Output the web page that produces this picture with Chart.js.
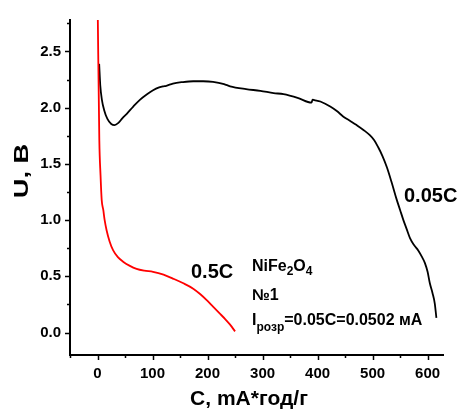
<!DOCTYPE html>
<html>
<head>
<meta charset="utf-8">
<script src="https://cdn.jsdelivr.net/npm/chart.js@4/dist/chart.umd.min.js"></script>
<style>
  html, body { margin: 0; padding: 0; background: #fff; }
</style>
</head>
<body>
<canvas id="grafik" width="460" height="410"></canvas>
<script>
// Розряд NiFe2O4, два режими струму
var redC = [0.3, 3.3, 5.5, 7.6, 10.5, 13, 16.5, 22, 28.5, 37, 46.5, 58, 71, 85, 101, 120, 137, 155, 174, 187, 198, 210, 222, 232, 241, 250];
var redU = [2.9, 1.71, 1.4, 1.18, 1.09, 1.0, 0.91, 0.81, 0.73, 0.67, 0.63, 0.595, 0.566, 0.55, 0.54, 0.515, 0.48, 0.44, 0.39, 0.34, 0.29, 0.23, 0.17, 0.12, 0.07, 0.01];

var blackC = [3, 5, 8, 12, 18, 25, 31, 38, 45, 54, 65, 77, 90, 101, 112, 119, 125, 137, 155, 174, 192, 210, 230, 241, 270, 296, 320, 338, 365, 389, 391, 394, 405, 423, 435, 447, 460, 471, 484, 495, 503, 510, 518, 526, 535, 544, 550, 556, 562, 568, 575, 583, 590, 595, 600, 604, 609, 613, 616];
var blackU = [2.39, 2.2, 2.07, 1.98, 1.9, 1.855, 1.845, 1.865, 1.905, 1.95, 2.01, 2.07, 2.12, 2.155, 2.18, 2.19, 2.195, 2.215, 2.228, 2.235, 2.235, 2.23, 2.21, 2.19, 2.165, 2.15, 2.13, 2.12, 2.085, 2.045, 2.072, 2.068, 2.055, 2.01, 1.97, 1.92, 1.88, 1.845, 1.8, 1.755, 1.71, 1.65, 1.57, 1.47, 1.33, 1.18, 1.09, 1.0, 0.92, 0.84, 0.78, 0.73, 0.67, 0.62, 0.54, 0.44, 0.35, 0.26, 0.13];

var xTicks = [0, 100, 200, 300, 400, 500, 600];
var xMinor = [-50, 50, 150, 250, 350, 450, 550];
var yTicks = [0, 0.5, 1.0, 1.5, 2.0, 2.5];
var yMinor = [0.25, 0.75, 1.25, 1.75, 2.25, 2.75];

function toPoints(xs, ys) {
  return xs.map(function (x, i) { return { x: x, y: ys[i] }; });
}

var narrow = "'Liberation Sans Narrow', 'Liberation Sans', Arial, sans-serif";
var wide = "'Liberation Sans', Arial, sans-serif";

// мітки осей (основні довші, проміжні коротші)
var podilky = {
  id: 'podilky',
  afterDraw: function (chart) {
    var ctx = chart.ctx;
    var sx = chart.scales.x, sy = chart.scales.y;
    var a = chart.chartArea;
    ctx.save();
    ctx.strokeStyle = '#000';
    ctx.lineWidth = 1.5;
    ctx.beginPath();
    xTicks.forEach(function (v) {
      var p = Math.round(sx.getPixelForValue(v)) + 0.5;
      ctx.moveTo(p, a.bottom); ctx.lineTo(p, a.bottom + 5);
    });
    xMinor.forEach(function (v) {
      var p = Math.round(sx.getPixelForValue(v)) + 0.5;
      ctx.moveTo(p, a.bottom); ctx.lineTo(p, a.bottom + 3);
    });
    yTicks.forEach(function (v) {
      var p = Math.round(sy.getPixelForValue(v)) + 0.5;
      ctx.moveTo(a.left, p); ctx.lineTo(a.left - 5, p);
    });
    yMinor.forEach(function (v) {
      var p = Math.round(sy.getPixelForValue(v)) + 0.5;
      ctx.moveTo(a.left, p); ctx.lineTo(a.left - 3, p);
    });
    ctx.stroke();
    ctx.restore();
  }
};

// написи на полі графіка, з нижніми індексами
function drawParts(ctx, x, y, parts) {
  parts.forEach(function (p) {
    ctx.font = 'bold ' + p[1] + 'px ' + wide;
    ctx.fillText(p[0], x, y + (p[2] || 0));
    x += ctx.measureText(p[0]).width;
  });
}

var napysy = {
  id: 'napysy',
  afterDraw: function (chart) {
    var ctx = chart.ctx;
    ctx.save();
    ctx.fillStyle = '#000';
    ctx.textBaseline = 'alphabetic';
    drawParts(ctx, 404, 202, [['0.05C', 20]]);
    drawParts(ctx, 191, 278, [['0.5C', 20]]);
    drawParts(ctx, 252, 271, [['NiFe', 16], ['2', 12, 4], ['O', 16], ['4', 12, 4]]);
    drawParts(ctx, 252, 300, [['№1', 16]]);
    drawParts(ctx, 252, 325, [['I', 16], ['розр', 12, 6], ['=0.05C=0.0502 мА', 16]]);

    // назви осей
    ctx.textAlign = 'center';
    ctx.font = 'bold 21px ' + wide;
    ctx.fillText('C, mA*год/г', 249, 405);

    ctx.translate(28, 171);
    ctx.rotate(-Math.PI / 2);
    ctx.scale(1.3, 1);
    ctx.font = 'bold 21px ' + wide;
    ctx.fillText('U, В', 0, 0);
    ctx.restore();
  }
};

var ctx = document.getElementById('grafik').getContext('2d');

var myChart = new Chart(ctx, {
  type: 'scatter',
  data: {
    datasets: [{
      label: '0.5C',
      data: toPoints(redC, redU),
      showLine: true,
      borderColor: '#ff0000',
      borderWidth: 1.8,
      pointRadius: 0,
      cubicInterpolationMode: 'monotone'
    }, {
      label: '0.05C',
      data: toPoints(blackC, blackU),
      showLine: true,
      borderColor: '#000000',
      borderWidth: 1.8,
      pointRadius: 0,
      cubicInterpolationMode: 'monotone'
    }]
  },
  options: {
    responsive: false,
    animation: false,
    layout: { padding: { top: 20, right: 17, left: 0, bottom: 0 } },
    plugins: {
      legend: { display: false },
      tooltip: { enabled: false }
    },
    scales: {
      x: {
        type: 'linear',
        min: -50,
        max: 628,
        afterBuildTicks: function (s) { s.ticks = xTicks.map(function (v) { return { value: v }; }); },
        afterFit: function (s) { s.height = 55; },
        grid: { display: false, drawTicks: false },
        border: { display: true, color: '#000', width: 2 },
        ticks: {
          color: '#000',
          padding: 10,
          maxRotation: 0,
          font: { family: narrow, size: 15, weight: 'bold' },
          callback: function (v) { return String(v); }
        }
      },
      y: {
        type: 'linear',
        min: -0.2,
        max: 2.78,
        afterBuildTicks: function (s) { s.ticks = yTicks.map(function (v) { return { value: v }; }); },
        afterFit: function (s) { s.width = 70; },
        grid: { display: false, drawTicks: false },
        border: { display: true, color: '#000', width: 2 },
        ticks: {
          color: '#000',
          padding: 9,
          font: { family: narrow, size: 15, weight: 'bold' },
          callback: function (v) { return Number(v).toFixed(1); }
        }
      }
    }
  },
  plugins: [podilky, napysy]
});
</script>
</body>
</html>
